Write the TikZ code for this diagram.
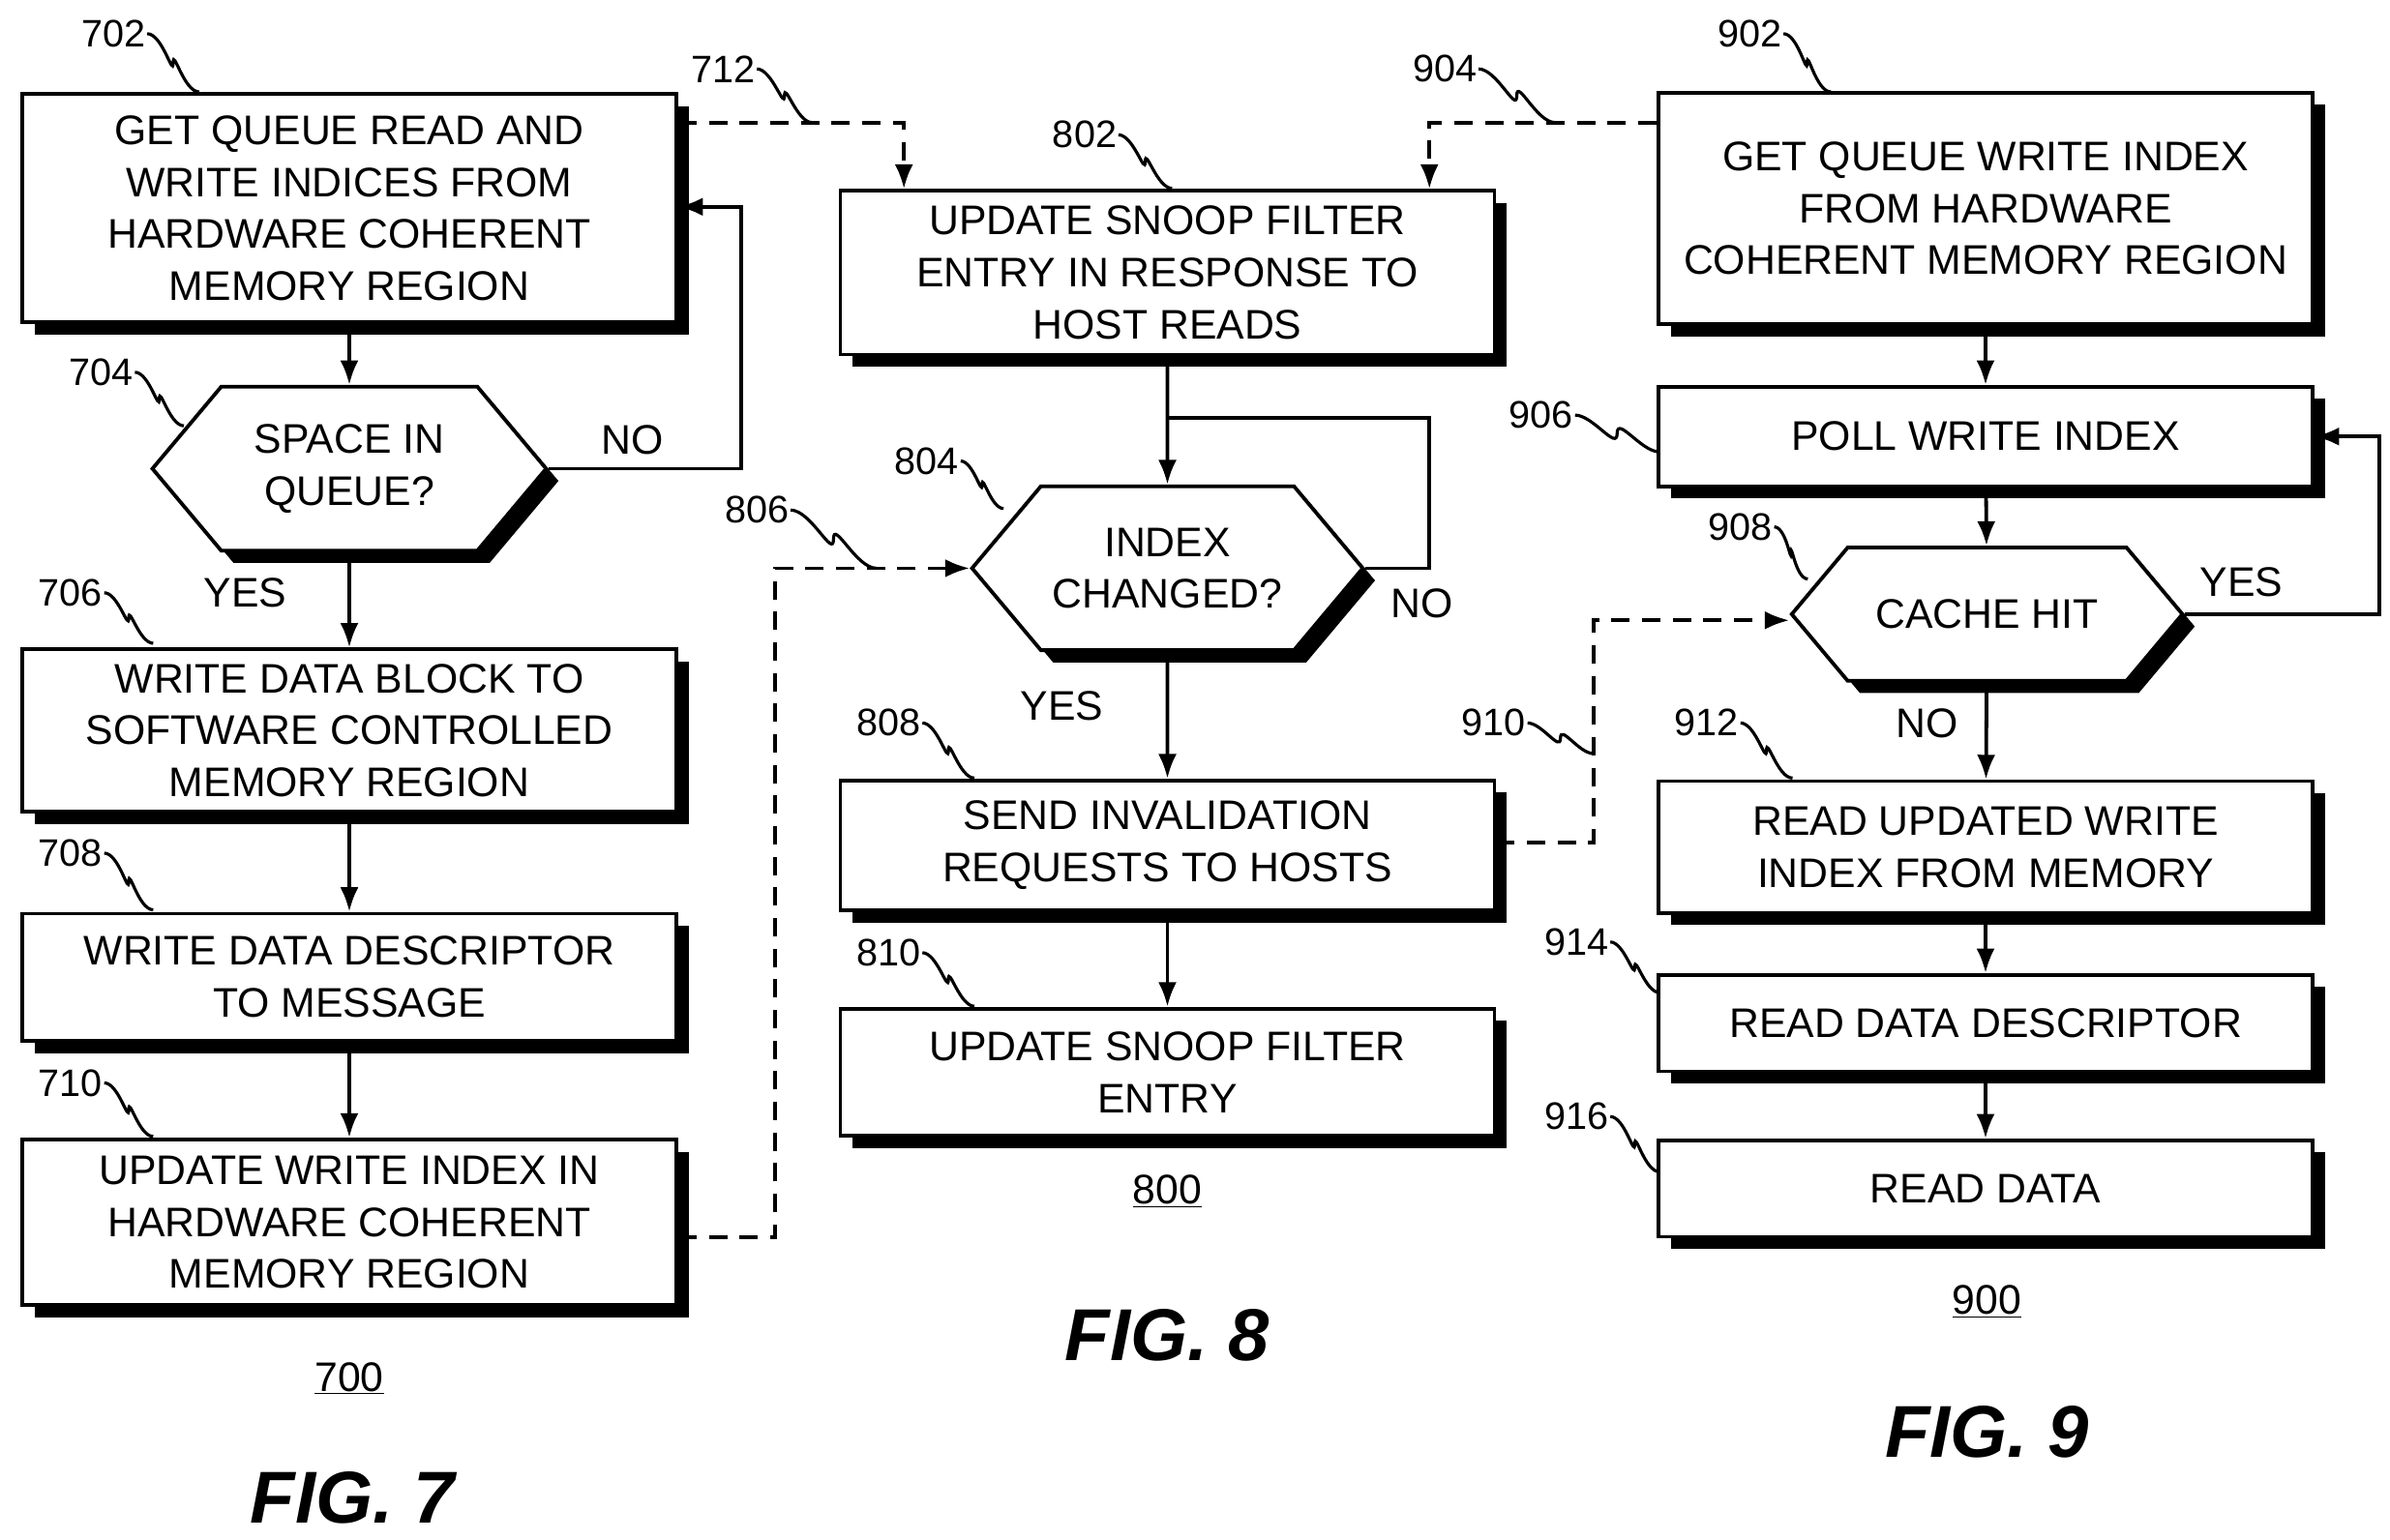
\documentclass[tikz,border=0pt]{standalone}
\usepackage{fontspec}
\setmainfont{Liberation Sans}
\usetikzlibrary{shapes.symbols,shadows,calc,arrows.meta}

\tikzset{
  box/.style={draw,line width=2.4pt,fill=white,align=center,inner sep=0pt,
    font=\fontsize{27}{34}\selectfont,
    drop shadow={shadow xshift=8pt,shadow yshift=-8pt,fill=black,opacity=1}},
  hexa/.style={box,signal,signal to=east and west,signal pointer angle=100},
  flow/.style={line width=2.4pt,-{Latex[length=16pt,width=12pt]}},
  dflow/.style={flow,dash pattern=on 12pt off 8pt},
  tag/.style={font=\fontsize{25}{30}\selectfont,inner sep=1pt},
  lbl/.style={font=\fontsize{27}{30}\selectfont},
  fig/.style={font=\fontsize{48}{56}\selectfont\bfseries\itshape\rmfamily},
}
\newcommand{\lead}[2]{\draw[line width=2pt] (#1.east) to[out=0,in=90] ($(#1.east)!0.5!(#2)$) to[out=-90,in=180] (#2);}

\begin{document}
\begin{tikzpicture}[x=1pt,y=1pt,yscale=-1]
\useasboundingbox (0,0) rectangle (1560,1005);

% FIG. 7
\node[box,minimum width=427pt,minimum height=149pt] (b702) at (228,136) {GET QUEUE READ AND\\WRITE INDICES FROM\\HARDWARE COHERENT\\MEMORY REGION};
\node[hexa,minimum width=257pt,minimum height=107pt] (h704) at (228,306) {SPACE IN\\QUEUE?};
\node[box,minimum width=427pt,minimum height=106pt] (b706) at (228,477) {WRITE DATA BLOCK TO\\SOFTWARE CONTROLLED\\MEMORY REGION};
\node[box,minimum width=427pt,minimum height=83pt] (b708) at (228,638) {WRITE DATA DESCRIPTOR\\TO MESSAGE};
\node[box,minimum width=427pt,minimum height=108pt] (b710) at (228,798) {UPDATE WRITE INDEX IN\\HARDWARE COHERENT\\MEMORY REGION};
\node[lbl] (n700) at (228,900) {\underline{700}};
\node[fig] (f7) at (230,978) {FIG. 7};

% FIG. 8
\node[box,minimum width=427pt,minimum height=107pt] (b802) at (762,178) {UPDATE SNOOP FILTER\\ENTRY IN RESPONSE TO\\HOST READS};
\node[hexa,minimum width=255pt,minimum height=107pt] (h804) at (762,371) {INDEX\\CHANGED?};
\node[box,minimum width=427pt,minimum height=85pt] (b808) at (762,552) {SEND INVALIDATION\\REQUESTS TO HOSTS};
\node[box,minimum width=427pt,minimum height=83pt] (b810) at (762,700) {UPDATE SNOOP FILTER\\ENTRY};
\node[lbl] (n800) at (762,778) {\underline{800}};
\node[fig] (f8) at (762,872) {FIG. 8};

% FIG. 9
\node[box,minimum width=427pt,minimum height=151pt] (b902) at (1296,136) {GET QUEUE WRITE INDEX\\FROM HARDWARE\\COHERENT MEMORY REGION};
\node[box,minimum width=427pt,minimum height=65pt] (b906) at (1296,285) {POLL WRITE INDEX};
\node[hexa,minimum width=255pt,minimum height=87pt] (h908) at (1297,401) {CACHE HIT};
\node[box,minimum width=427pt,minimum height=86pt] (b912) at (1296,553) {READ UPDATED WRITE\\INDEX FROM MEMORY};
\node[box,minimum width=427pt,minimum height=63pt] (b914) at (1296,668) {READ DATA DESCRIPTOR};
\node[box,minimum width=427pt,minimum height=63pt] (b916) at (1296,776) {READ DATA};
\node[lbl] (n900) at (1297,850) {\underline{900}};
\node[fig] (f9) at (1297,935) {FIG. 9};

% flow
\draw[flow] (b702) -- (h704);
\draw[flow] (h704) -- (b706);
\draw[flow] (b706) -- (b708);
\draw[flow] (b708) -- (b710);
\draw[flow] (h704.east) -| (484,135) -- (b702.east |- 0,135);
\draw[flow] (b802) -- (h804);
\draw[flow] (h804) -- (b808);
\draw[flow] (b808) -- (b810);
\draw[line width=2.4pt] (762,273) -| (933,371) -- (h804.east);
\draw[flow] (b902) -- (b906);
\draw[flow] (b906) -- (h908);
\draw[flow] (h908) -- (b912);
\draw[flow] (b912) -- (b914);
\draw[flow] (b914) -- (b916);
\draw[flow] (h908.east) -| (1553,285) -- (b906.east |- 0,285);
\draw[dflow] (b710.east |- 0,808) -| (506,371) -- (h804.west);
\draw[dflow] (b702.east |- 0,80) -| (b802.north -| 590,0);
\draw[dflow] (b902.west |- 0,80) -| (b802.north -| 933,0);
\draw[dflow] (b808.east |- 0,550) -| (1040,405) -- (h908.west |- 0,405);

% branch labels
\node[lbl] (no704) at (413,287) {NO};
\node[lbl] (yes704) at (160,387) {YES};
\node[lbl] (no804) at (928,394) {NO};
\node[lbl] (yes804) at (693,461) {YES};
\node[lbl] (yes908) at (1463,380) {YES};
\node[lbl] (no908) at (1258,472) {NO};

% reference numerals
\node[tag] (t702) at (74,22) {702};   \coordinate (c702) at (130,60);
\node[tag] (t704) at (66,243) {704};  \coordinate (c704) at (120,278);
\node[tag] (t706) at (46,387) {706};  \coordinate (c706) at (100,420);
\node[tag] (t708) at (46,557) {708};  \coordinate (c708) at (100,594);
\node[tag] (t710) at (46,707) {710};  \coordinate (c710) at (100,742);
\node[tag] (t712) at (472,45) {712};  \coordinate (c712) at (530,80);
\node[tag] (t802) at (708,88) {802};  \coordinate (c802) at (765,123);
\node[tag] (t804) at (605,301) {804}; \coordinate (c804) at (655,332);
\node[tag] (t806) at (494,333) {806}; \coordinate (c806) at (572,371);
\node[tag] (t808) at (580,472) {808}; \coordinate (c808) at (636,508);
\node[tag] (t810) at (580,622) {810}; \coordinate (c810) at (636,657);
\node[tag] (t902) at (1142,22) {902}; \coordinate (c902) at (1195,60);
\node[tag] (t904) at (943,45) {904};  \coordinate (c904) at (1015,80);
\node[tag] (t906) at (1006,271) {906};\coordinate (c906) at (1083,295);
\node[tag] (t908) at (1136,344) {908};\coordinate (c908) at (1180,378);
\node[tag] (t910) at (975,472) {910}; \coordinate (c910) at (1040,492);
\node[tag] (t912) at (1114,472) {912};\coordinate (c912) at (1170,508);
\node[tag] (t914) at (1029,615) {914};\coordinate (c914) at (1083,648);
\node[tag] (t916) at (1029,729) {916};\coordinate (c916) at (1083,765);
\lead{t702}{c702}\lead{t704}{c704}\lead{t706}{c706}\lead{t708}{c708}
\lead{t710}{c710}\lead{t712}{c712}\lead{t802}{c802}\lead{t804}{c804}
\lead{t806}{c806}\lead{t808}{c808}\lead{t810}{c810}\lead{t902}{c902}
\lead{t904}{c904}\lead{t906}{c906}\lead{t908}{c908}\lead{t910}{c910}
\lead{t912}{c912}\lead{t914}{c914}\lead{t916}{c916}
\end{tikzpicture}
\end{document}
